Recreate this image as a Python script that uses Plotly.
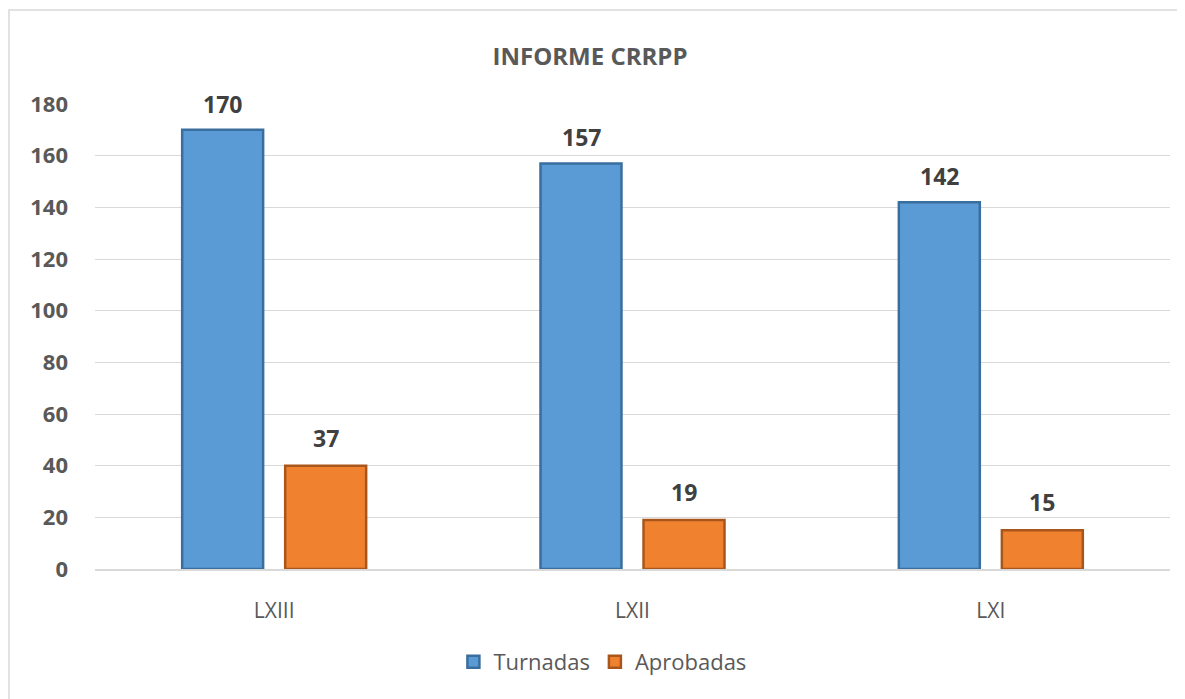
import plotly.graph_objects as go

categories = ["LXIII", "LXII", "LXI"]
turnadas = [170, 157, 142]
aprobadas_bar = [40, 19, 15]
aprobadas_labels = ["37", "19", "15"]
y_ticks = [0, 20, 40, 60, 80, 100, 120, 140, 160, 180]

FONT = "Open Sans"
GRAY = "#595959"
LABEL = "#404040"

fig = go.Figure()
fig.add_trace(go.Bar(
    name="Turnadas", x=categories, y=turnadas,
    marker=dict(color="#5B9BD5", line=dict(color="#3A6E9E", width=2.5)),
))
fig.add_trace(go.Bar(
    name="Aprobadas", x=categories, y=aprobadas_bar,
    marker=dict(color="#F0822F", line=dict(color="#A9561C", width=2.5)),
))

annotations = []
for cat, v in zip(categories, turnadas):
    annotations.append(dict(x=cat, y=v, xref="x", yref="y", text=f"<b>{v}</b>",
                            showarrow=False, xshift=-51.5, yshift=26, yanchor="middle",
                            font=dict(family=FONT, size=23, color=LABEL)))
for cat, v, t in zip(categories, aprobadas_bar, aprobadas_labels):
    annotations.append(dict(x=cat, y=v, xref="x", yref="y", text=f"<b>{t}</b>",
                            showarrow=False, xshift=51.5, yshift=28, yanchor="middle",
                            font=dict(family=FONT, size=23, color=LABEL)))

fig.update_layout(
    width=1185, height=699,
    barmode="group", bargap=0.425, bargroupgap=0.214,
    paper_bgcolor="white", plot_bgcolor="white",
    margin=dict(l=87, r=23, t=96, b=138),
    title=dict(text="<b>INFORME CRRPP</b>", x=(590 - 8) / 1185, xanchor="center",
               y=1 - 49 / 699, yanchor="middle",
               font=dict(family=FONT, size=24, color=GRAY)),
    legend=dict(orientation="h", x=0.472, xanchor="center", y=-0.2, yanchor="middle",
                font=dict(family=FONT, size=22, color=GRAY), itemwidth=30,
                traceorder="normal"),
    xaxis=dict(showline=True, linecolor="#D9D9D9", linewidth=1.5, ticks="",
               tickfont=dict(family=FONT, size=21, color=GRAY), ticklabelstandoff=22),
    yaxis=dict(range=[0, 180], tickvals=y_ticks, showline=False, gridcolor="#D9D9D9",
               gridwidth=1.2, zeroline=False, ticks="",
               tickfont=dict(family=FONT, size=22, color=GRAY, weight="bold"),
               ticklabelstandoff=26),
    annotations=annotations,
    shapes=[dict(type="rect", xref="paper", yref="paper",
                 x0=(1 - 87) / 1075, x1=1.1, y0=-0.5, y1=(561 - 2) / 465,
                 line=dict(color="#D9D9D9", width=1.5), layer="below")],
    showlegend=True,
)

fig.write_html("out.html")
